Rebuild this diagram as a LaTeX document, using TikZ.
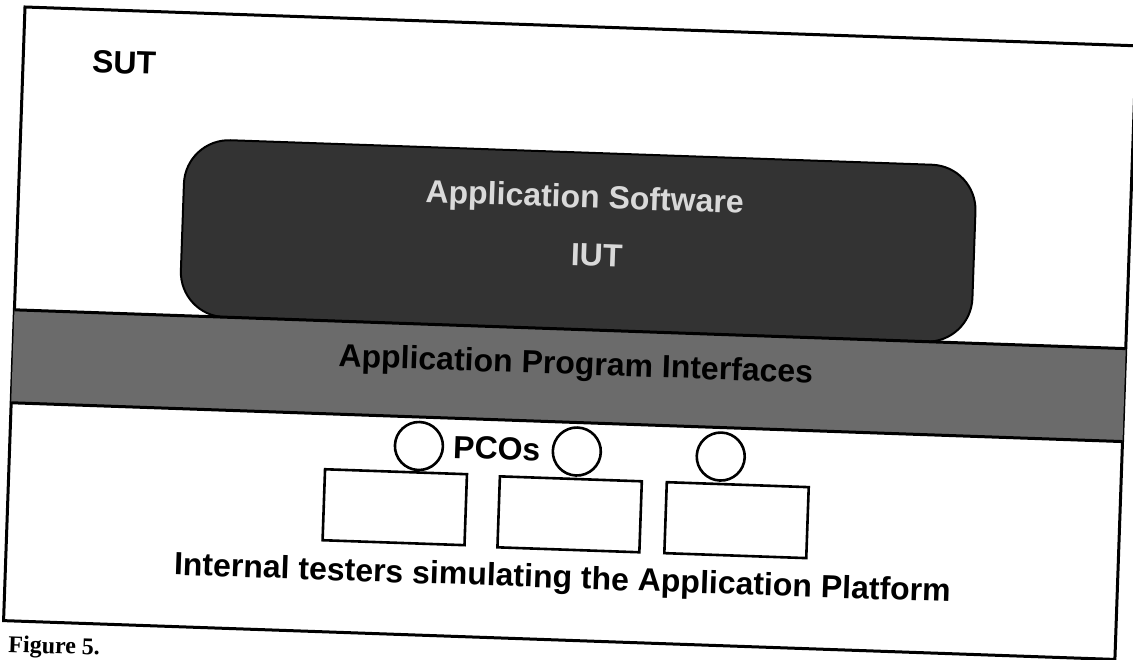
\documentclass[tikz,border=0pt]{standalone}
\usepackage{fontspec}
\setmainfont{Liberation Sans}
\newfontfamily\capfont{Liberation Serif}
\begin{document}
\begin{tikzpicture}[x=1pt,y=-1pt,
  lbl/.style={font=\fontsize{32}{38}\selectfont\bfseries, inner sep=0pt},
  pco/.style={circle, draw, line width=2.6pt, fill=white, minimum size=48pt, inner sep=0pt},
  tester/.style={rectangle, draw, line width=2.6pt, fill=white, minimum width=142pt, minimum height=71pt, inner sep=0pt},
  frameline/.style={line width=3pt},
  swbox/.style={draw, line width=2pt, fill=black!80, rounded corners=45pt},
  apiband/.style={fill=black!58}]
\useasboundingbox (0,0) rectangle (1133,660);
\fill[white] (0,0) rectangle (1133,660);
\begin{scope}[shift={(25,7)}, rotate=-2, transform shape]
  \draw[frameline, fill=white] (0,0) rectangle (1112,614);
  \draw[swbox] (165,126) rectangle (957,303);
  \fill[apiband] (0,303) rectangle (1112,396);
  \draw[frameline] (0,303) -- (1112,303);
  \draw[frameline] (0,396) -- (1112,396);
  \node[lbl] (sut) at (101,52) {SUT};
  \node[lbl, text=white!85!black] (appsw) at (566,173) {Application Software};
  \node[lbl, text=white!85!black] (iut) at (580,228) {IUT};
  \node[lbl] (api) at (563,340) {Application Program Interfaces};
  \node[tester] (t1) at (387,487) {};
  \node[tester] (t2) at (562,488) {};
  \node[tester] (t3) at (729,488) {};
  \node[pco] (p1) at (409,425) {};
  \node[pco] (p2) at (567,425) {};
  \node[pco] (p3) at (711,425) {};
  \node[lbl] (pcos) at (487,425) {PCOs};
  \node[lbl] (internal) at (557,554) {Internal testers simulating the Application Platform};
\end{scope}
\node[font=\capfont\bfseries\fontsize{24}{28}\selectfont, anchor=base west, rotate=-2, inner sep=0pt] (cap) at (8,652) {Figure 5.};
\end{tikzpicture}
\end{document}
